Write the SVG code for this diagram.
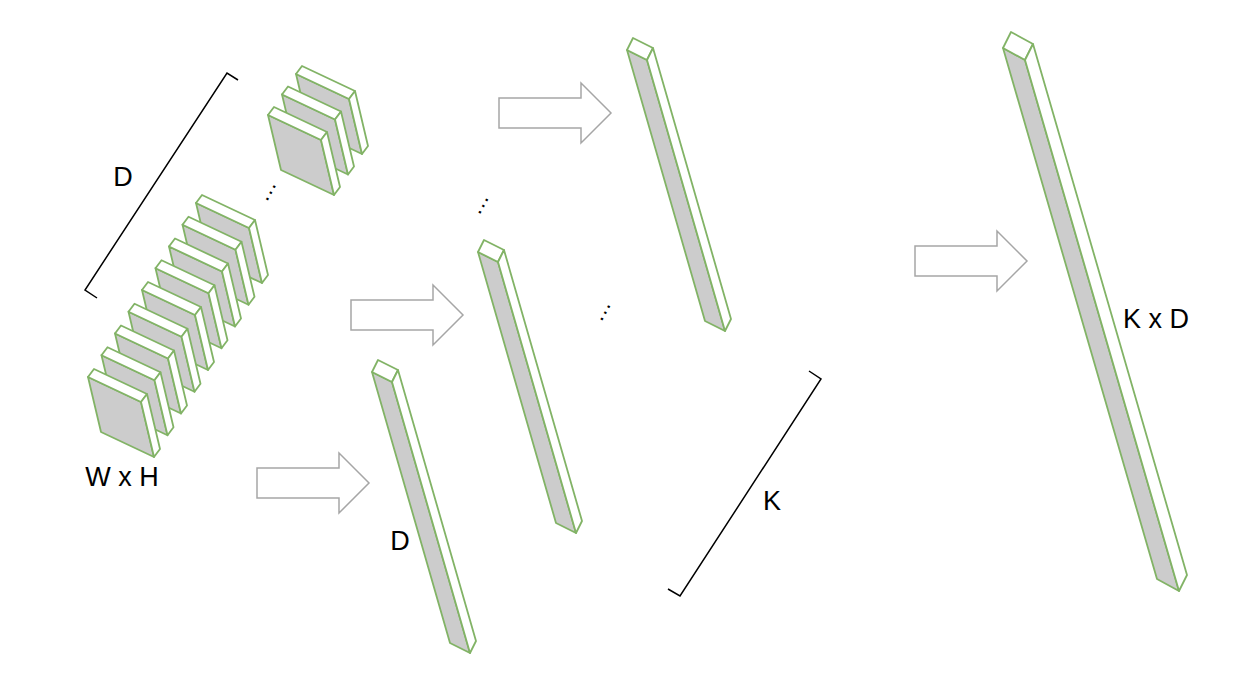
<svg xmlns="http://www.w3.org/2000/svg" xmlns:xlink="http://www.w3.org/1999/xlink" width="1258" height="698" viewBox="0 0 1258 698">
<style>
.g{fill:#cccccc;stroke:#82b366;stroke-width:1.8;stroke-linejoin:round}
.w{fill:#ffffff;stroke:#82b366;stroke-width:1.8;stroke-linejoin:round}
.arr{fill:#ffffff;stroke:#a6a6a6;stroke-width:1.5}
.br{fill:none;stroke:#000000;stroke-width:1.5}
.lbl{font-family:"Liberation Sans",Arial,sans-serif;font-size:27px;fill:#000000;text-anchor:middle}
.dots{font-family:"Liberation Sans",Arial,sans-serif;font-size:22px;fill:#000000;text-anchor:middle}
</style>
<defs>
<g id="plate">
<path class="g" d="M0,0 L53,25 L66,80 L13,55 Z"/>
<path class="w" d="M0,0 L6,-8 L59,17 L53,25 Z"/>
<path class="w" d="M53,25 L59,17 L72,72 L66,80 Z"/>
</g>
<g id="bar">
<path class="g" d="M0,0 L20,10 L98,281 L78,271 Z"/>
<path class="w" d="M0,0 L6,-12 L26,-2 L20,10 Z"/>
<path class="w" d="M20,10 L26,-2 L104,269 L98,281 Z"/>
</g>
<path id="arrow" class="arr" d="M0,-15 H82 V-30 L112,0 L82,30 V15 H0 Z"/>
</defs>
<rect width="1258" height="698" fill="#ffffff"/>

<g id="stack-lower">
<g id="plate-l9"><use xlink:href="#plate" transform="translate(196,203)"/></g>
<g id="plate-l8"><use xlink:href="#plate" transform="translate(182.5,224.75)"/></g>
<g id="plate-l7"><use xlink:href="#plate" transform="translate(169,246.5)"/></g>
<g id="plate-l6"><use xlink:href="#plate" transform="translate(155.5,268.25)"/></g>
<g id="plate-l5"><use xlink:href="#plate" transform="translate(142,290)"/></g>
<g id="plate-l4"><use xlink:href="#plate" transform="translate(128.5,311.75)"/></g>
<g id="plate-l3"><use xlink:href="#plate" transform="translate(115,333.5)"/></g>
<g id="plate-l2"><use xlink:href="#plate" transform="translate(101.5,355.25)"/></g>
<g id="plate-l1"><use xlink:href="#plate" transform="translate(88,377)"/></g>
</g>

<g id="stack-upper">
<g id="plate-u3"><use xlink:href="#plate" transform="translate(296,74)"/></g>
<g id="plate-u2"><use xlink:href="#plate" transform="translate(282,94.5)"/></g>
<g id="plate-u1"><use xlink:href="#plate" transform="translate(268,115)"/></g>
</g>

<g id="bar-1"><use xlink:href="#bar" transform="translate(372,372)"/></g>
<g id="bar-2"><use xlink:href="#bar" transform="translate(478,252)"/></g>
<g id="bar-3"><use xlink:href="#bar" transform="translate(627,50)"/></g>
<g id="bar-kd">
<path class="g" d="M1003,48 l22,12 l154,531 l-22,-12 Z"/>
<path class="w" d="M1003,48 l8,-16 l22,12 l-8,16 Z"/>
<path class="w" d="M1025,60 l8,-16 l154,531 l-8,16 Z"/>
</g>

<g id="connectors">
<use xlink:href="#arrow" transform="translate(257,483)"/>
<use xlink:href="#arrow" transform="translate(351,315)"/>
<use xlink:href="#arrow" transform="translate(499,113)"/>
<use xlink:href="#arrow" transform="translate(915,261)"/>
</g>

<g id="brackets">
<polyline class="br" points="238,80 227,73 85,290 97,298"/>
<polyline class="br" points="809,371 821,379 680,596 668,589"/>
</g>

<g id="labels">
<text class="lbl" x="123" y="186">D</text>
<text class="lbl" x="122" y="486">W x H</text>
<text class="lbl" x="400" y="550">D</text>
<text class="lbl" x="772" y="510">K</text>
<text class="lbl" x="1156" y="328">K x D</text>
<text class="dots" transform="translate(270.5,192.7) rotate(-61)" y="1.5">…</text>
<text class="dots" transform="translate(483,205.8) rotate(-61)" y="1.5">…</text>
<text class="dots" transform="translate(605,312.7) rotate(-61)" y="1.5">…</text>
</g>
</svg>
